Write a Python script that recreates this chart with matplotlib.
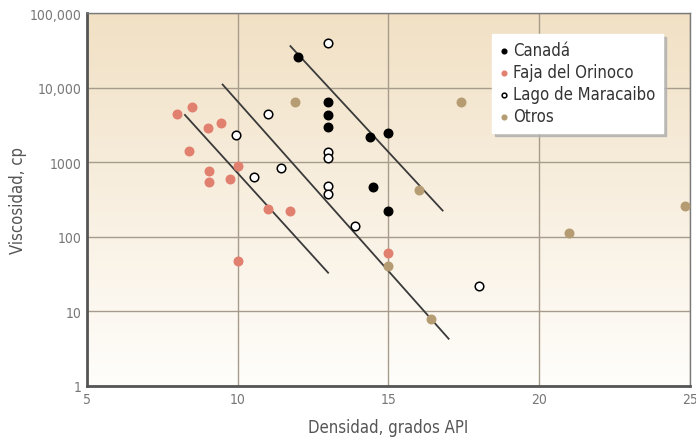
import numpy as np
import matplotlib
matplotlib.use('Agg')
import matplotlib.pyplot as plt

# Datos (densidad API, viscosidad cp)
canada_x = [12, 13, 13, 13, 14.4, 15, 14.5, 15]
canada_y = [25500, 6500, 4300, 3000, 2150, 2450, 470, 225]

faja_x = [8, 8.5, 9, 9.45, 8.4, 10, 9.05, 9.05, 9.75, 11, 11.75, 10, 15]
faja_y = [4400, 5500, 2900, 3400, 1400, 900, 770, 550, 590, 235, 225, 47, 60]

lago_x = [13, 11, 9.95, 10.55, 11.45, 13, 13, 13, 13, 13.9, 18]
lago_y = [40000, 4400, 2300, 630, 830, 1350, 1150, 480, 380, 140, 22]

otros_x = [11.9, 17.4, 16, 24.85, 21, 15, 16.4]
otros_y = [6500, 6500, 430, 260, 112, 40, 8]

# Lineas de tendencia (extremos)
lineas_x = [[8.25, 13], [9.5, 17], [11.75, 16.8]]
lineas_y = [[4300, 33], [11000, 4.3], [36000, 225]]

x_ticks = [5, 10, 15, 20, 25]
y_ticks = [1, 10, 100, 1000, 10000, 100000]
y_labels = ['1', '10', '100', '1000', '10,000', '100,000']

plt.rcParams['font.family'] = ['DejaVu Sans']
plt.rcParams['font.stretch'] = 'condensed'

fig = plt.figure(figsize=(6.96, 4.39), dpi=100)
ax = fig.add_axes([0.125, 0.1185, 0.866, 0.8495])

# fondo degradado
grad = np.linspace(0, 1, 256).reshape(-1, 1)
top = np.array([0.945, 0.88, 0.77])
bot = np.array([1.0, 0.995, 0.985])
img = top[None, None, :] * (1 - grad[:, :, None]) + bot[None, None, :] * grad[:, :, None]
ax.imshow(img, extent=[0, 1, 0, 1], transform=ax.transAxes, aspect='auto', zorder=0)

ax.set_yscale('log')
ax.set_xlim(5, 25)
ax.set_ylim(1, 100000)

ax.grid(True, which='major', color='#a79c8c', linewidth=1.0, zorder=1)
ax.minorticks_off()

for lx, ly in zip(lineas_x, lineas_y):
    ax.plot(lx, ly, color='#3a3a3a', linewidth=1.3, zorder=2)

ax.scatter(canada_x, canada_y, s=38, color='black', zorder=3, label='Canadá')
ax.scatter(faja_x, faja_y, s=38, color='#e2806f', zorder=3, label='Faja del Orinoco')
ax.scatter(lago_x, lago_y, s=38, facecolor='white', edgecolor='black', linewidth=1.1,
           zorder=3, label='Lago de Maracaibo')
ax.scatter(otros_x, otros_y, s=38, color='#b59c72', zorder=3, label='Otros')

ax.set_xticks(x_ticks)
ax.set_xticklabels([str(t) for t in x_ticks])
ax.set_yticks(y_ticks)
ax.set_yticklabels(y_labels)
ax.tick_params(length=0, labelsize=10, colors='#777777', pad=4)

for s in ['left', 'bottom']:
    ax.spines[s].set_color('#555555')
    ax.spines[s].set_linewidth(2)
for s in ['top', 'right']:
    ax.spines[s].set_color('#7a7a7a')
    ax.spines[s].set_linewidth(1)

ax.set_xlabel('Densidad, grados API', fontsize=12, color='#555555', labelpad=9)
ax.set_ylabel('Viscosidad, cp', fontsize=12, color='#555555', labelpad=2)

leg = ax.legend(loc='upper left', bbox_to_anchor=(0.672, 0.944), frameon=True,
                fancybox=False, shadow={'color': '#b0b0b0', 'alpha': 0.8},
                fontsize=12, handletextpad=0.3,
                handlelength=0.5, borderpad=0.45, labelspacing=0.24,
                markerscale=0.55, borderaxespad=0)
leg.get_frame().set_facecolor('white')
leg.get_frame().set_edgecolor('white')
for t in leg.get_texts():
    t.set_color('#333333')

fig.savefig('out.png', dpi=100)
